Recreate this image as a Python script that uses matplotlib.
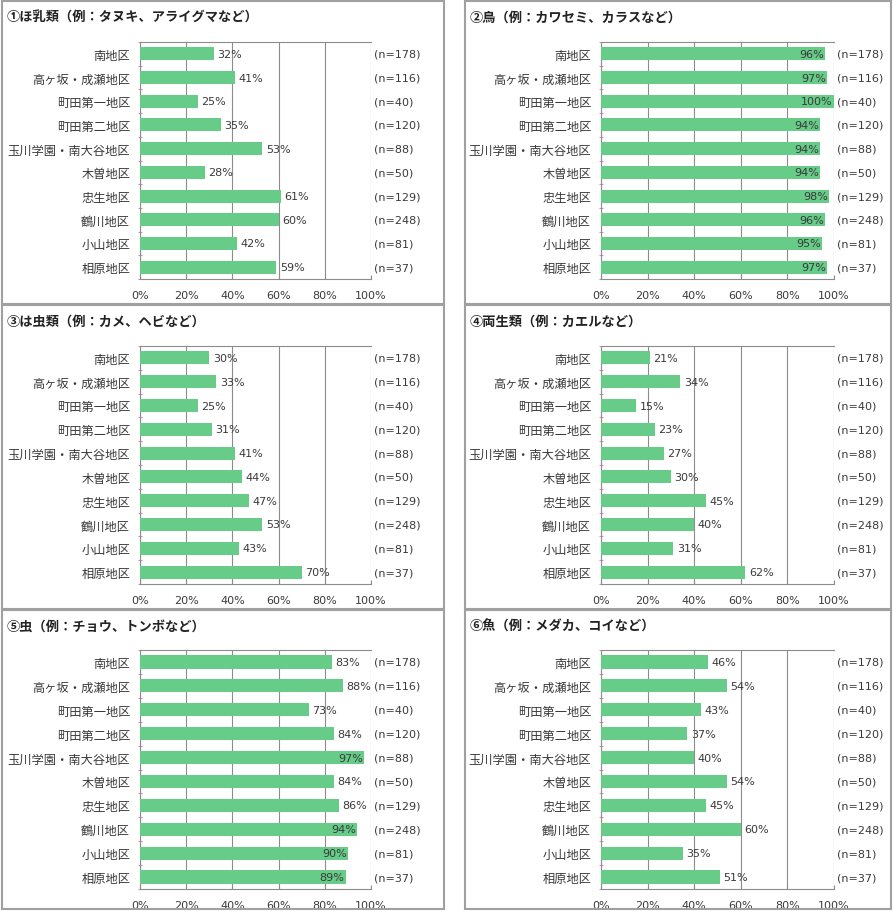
import matplotlib.pyplot as plt
from matplotlib.patches import Rectangle
import numpy as np

plt.rcParams['font.family'] = ['Noto Sans CJK JP', 'DejaVu Sans']

areas = ['南地区', '高ヶ坂・成瀬地区', '町田第一地区', '町田第二地区', '玉川学園・南大谷地区',
         '木曽地区', '忠生地区', '鶴川地区', '小山地区', '相原地区']
n_counts = [178, 116, 40, 120, 88, 50, 129, 248, 81, 37]

titles = ['①ほ乳類（例：タヌキ、アライグマなど）',
          '②鳥（例：カワセミ、カラスなど）',
          '③は虫類（例：カメ、ヘビなど）',
          '④両生類（例：カエルなど）',
          '⑤虫（例：チョウ、トンボなど）',
          '⑥魚（例：メダカ、コイなど）']

mammals = [32, 41, 25, 35, 53, 28, 61, 60, 42, 59]
birds = [96, 97, 100, 94, 94, 94, 98, 96, 95, 97]
reptiles = [30, 33, 25, 31, 41, 44, 47, 53, 43, 70]
amphibians = [21, 34, 15, 23, 27, 30, 45, 40, 31, 62]
insects = [83, 88, 73, 84, 97, 84, 86, 94, 90, 89]
fish = [46, 54, 43, 37, 40, 54, 45, 60, 35, 51]
series = [mammals, birds, reptiles, amphibians, insects, fish]

xticks = [0, 20, 40, 60, 80, 100]

W, H = 893, 912
fig = plt.figure(figsize=(W / 100, H / 100), dpi=100)

BAR = '#66cc88'
TXT = '#3a3a3a'
GRID = '#8c8c8c'

# panel x0, x1, axes x0, axes x1 (pixels)
cols = [(2, 444, 140, 371), (465, 891, 601, 834)]
# panel y0, y1, axes y0, axes y1
rows = [(2, 305, 43, 280), (306, 610, 347, 585), (611, 910, 651, 890)]


def px_axes(x0, y0, x1, y1):
    return fig.add_axes([x0 / W, 1 - y1 / H, (x1 - x0) / W, (y1 - y0) / H])


for i, vals in enumerate(series):
    px0, px1, ax0, ax1 = cols[i % 2]
    py0, py1, ay0, ay1 = rows[i // 2]

    fig.patches.append(Rectangle((px0 / W, 1 - py1 / H), (px1 - px0) / W, (py1 - py0) / H,
                                 transform=fig.transFigure, fill=False,
                                 edgecolor='#a0a0a0', linewidth=1.5))
    fig.text((px0 + 5) / W, 1 - (py0 + 16) / H, titles[i], fontsize=9.5, fontweight='bold',
             color='#222222', va='center', ha='left')

    ax = px_axes(ax0, ay0, ax1, ay1)
    y = np.arange(len(areas))
    ax.barh(y, vals, height=0.55, color=BAR, zorder=3)
    ax.set_xlim(0, 100)
    ax.set_ylim(len(areas) - 0.5, -0.5)
    ax.set_xticks(xticks)
    ax.set_xticklabels([f'{t}%' for t in xticks], fontsize=8, color=TXT, family='DejaVu Sans')
    ax.set_yticks(y)
    ax.set_yticklabels(areas, fontsize=8.8, color=TXT)
    ax.set_yticks(np.arange(len(areas) + 1) - 0.5, minor=True)
    ax.tick_params(axis='y', which='major', length=0, pad=7)
    ax.tick_params(axis='y', which='minor', length=3, color='#c080a0', direction='inout')
    ax.tick_params(axis='x', length=3, color=GRID, direction='in', pad=8)
    ax.grid(axis='x', color=GRID, linewidth=0.8, zorder=0)
    for s in ['top', 'bottom', 'left']:
        ax.spines[s].set_color(GRID)
        ax.spines[s].set_linewidth(0.8)
    ax.spines['right'].set_visible(False)

    for yy, v, n in zip(y, vals, n_counts):
        if v >= 89:
            ax.text(v - 0.5, yy, f'{v}%', ha='right', va='center', fontsize=8,
                    color=TXT, family='DejaVu Sans', zorder=4)
        else:
            ax.text(v + 1.5, yy, f'{v}%', ha='left', va='center', fontsize=8,
                    color=TXT, family='DejaVu Sans', zorder=4)
        ax.text(101.5, yy, f'(n={n})', ha='left', va='center', fontsize=8,
                color=TXT, family='DejaVu Sans', clip_on=False)

fig.savefig('out.png', dpi=100, facecolor='white')
